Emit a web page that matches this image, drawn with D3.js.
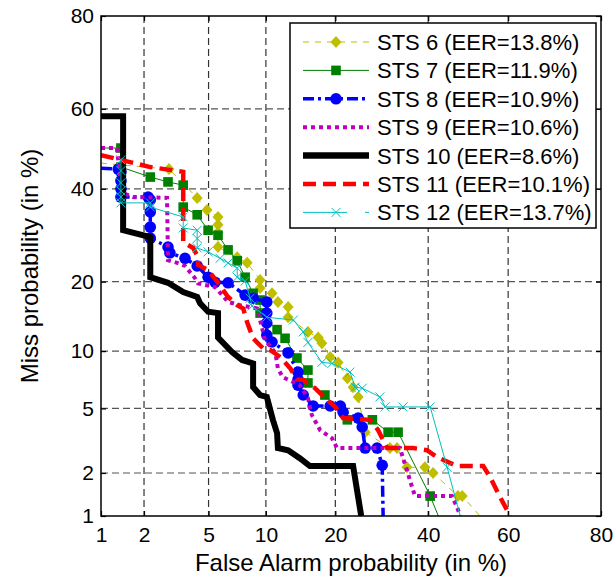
<!DOCTYPE html>
<html>
<head>
<meta charset="utf-8">
<script src="https://cdn.jsdelivr.net/npm/d3@7"></script>
<style>
  body { margin: 0; background: #fff; }
  svg { display: block; }
  text { font-family: "Liberation Sans", Arial, Helvetica, sans-serif; fill: #000; }
</style>
</head>
<body>
<svg id="chart" width="615" height="577"></svg>
<script>
// Axis tick values (percent), shared by both normal-deviate axes
const tickValues = [1, 2, 5, 10, 20, 40, 60, 80];

// System names and their equal error rates (%)
const seriesNames = ["STS 6", "STS 7", "STS 8", "STS 9", "STS 10", "STS 11", "STS 12"];
const eerValues = [13.8, 11.9, 10.9, 10.6, 8.6, 10.1, 13.7];

// DET operating points: [false alarm %, miss %]
const sts6 = [[1.0,46.4],[2.9,44.9],[4.3,37.8],[4.9,34.9],[5.65,33.3],[5.65,31.5],[5.65,29.8],[5.65,26.7],[7.17,24.6],[8.07,23.5],[9.37,20.3],[9.37,18.9],[10.7,18.0],[11.4,16.6],[12.7,15.8],[12.7,14.3],[15.5,12.3],[17.1,11.6],[17.7,10.9],[19.1,9.35],[20.5,8.8],[22.2,7.3],[23.3,6.55],[24.3,5.8],[25.7,3.63],[31.0,2.9],[32.6,2.9],[34.9,2.18],[39.2,2.18],[41.2,2.0],[47.4,1.39],[48.5,1.39],[53.0,1.0]];
const sts7 = [[1.0,50.2],[1.39,50.2],[1.39,45.4],[2.2,42.9],[2.86,41.7],[3.55,40.9],[3.55,35.6],[4.3,33.8],[4.97,30.3],[5.65,29.2],[6.41,26.1],[7.17,23.9],[7.88,20.8],[8.65,18.0],[9.37,16.9],[9.37,14.9],[11.3,12.6],[12.3,11.5],[13.9,9.25],[15.5,8.05],[15.5,6.9],[18.2,5.94],[22.2,4.3],[27.2,4.3],[30.6,3.63],[32.85,3.63],[40.5,1.39],[42.5,1.0]];
const sts8 = [[1.0,45.1],[1.33,44.9],[1.39,44.2],[1.39,42.0],[1.39,40.0],[1.39,38.0],[2.13,38.0],[2.2,37.3],[2.2,34.5],[2.2,31.0],[2.2,28.6],[2.86,26.7],[2.94,25.5],[3.64,24.4],[4.3,22.9],[4.97,20.8],[5.44,19.9],[6.41,19.8],[7.88,17.7],[8.65,17.2],[10.1,16.6],[10.1,14.9],[10.1,13.5],[10.1,11.9],[10.7,11.05],[12.7,9.8],[14.05,7.86],[14.05,7.2],[14.05,6.72],[14.8,5.94],[16.3,5.16],[19.1,5.16],[20.9,5.16],[21.4,4.77],[24.3,4.4],[25.1,3.9],[25.7,2.9],[28.2,2.9],[29.3,2.25],[29.5,1.0]];
const sts9 = [[1.0,50.2],[1.3,50.2],[1.42,39.0],[1.69,38.0],[2.82,37.8],[2.86,24.0],[3.26,23.5],[3.64,22.9],[4.18,20.6],[4.35,19.7],[5.44,19.05],[6.41,16.6],[7.42,16.1],[9.05,15.6],[9.37,13.9],[9.9,11.3],[11.1,9.8],[11.4,8.2],[12.0,7.4],[14.3,6.72],[15.5,5.72],[16.1,4.58],[17.4,3.74],[19.4,3.34],[20.3,2.9],[33.3,2.9],[34.0,2.5],[34.9,2.09],[35.6,1.79],[36.8,1.39],[45.9,1.39],[47.2,1.16],[48.0,1.0]];
const sts10 = [[1.0,58.2],[1.44,58.2],[1.44,30.3],[2.2,28.8],[2.2,20.8],[2.86,19.8],[3.55,18.2],[4.3,17.4],[4.47,16.4],[4.97,15.1],[5.65,14.9],[5.65,11.6],[6.73,9.9],[7.6,9.05],[8.65,8.7],[8.65,6.56],[9.37,5.94],[10.1,5.8],[10.8,4.3],[11.3,3.58],[11.4,2.9],[12.7,2.81],[14.3,2.5],[15.8,2.22],[23.3,2.22],[24.9,1.0]];
const sts11 = [[1.0,48.4],[1.39,47.2],[2.2,45.4],[2.94,44.7],[3.55,44.2],[3.55,27.7],[4.07,26.5],[4.35,24.6],[4.35,23.1],[4.97,22.1],[5.65,19.8],[6.41,17.4],[7.17,16.1],[7.7,15.6],[8.07,13.6],[8.65,11.5],[9.7,10.3],[10.5,10.1],[11.7,9.35],[13.0,8.2],[13.9,7.2],[14.8,7.15],[16.6,6.47],[18.6,5.57],[20.0,5.1],[21.4,4.4],[26.7,4.3],[28.4,3.74],[30.4,2.9],[36.4,2.9],[39.7,2.81],[42.2,2.54],[47.2,2.22],[53.8,2.22],[55.5,1.88],[58.0,1.37],[60.5,1.0]];
const sts12 = [[1.39,47.2],[1.39,44.5],[1.39,41.5],[1.39,39.5],[1.39,38.0],[1.39,36.6],[2.2,36.6],[2.2,35.6],[3.55,33.3],[3.55,30.8],[4.3,30.3],[4.3,28.5],[4.3,26.5],[4.97,25.7],[5.8,24.4],[6.41,23.5],[7.17,22.5],[7.17,20.8],[7.88,20.1],[8.35,17.2],[8.55,15.96],[10.1,14.3],[13.4,13.9],[14.8,12.3],[15.5,11.0],[17.7,8.8],[19.4,8.7],[22.7,7.86],[23.7,6.55],[25.1,6.47],[28.8,5.8],[29.95,5.1],[34.0,5.1],[40.5,5.1],[44.7,2.18],[48.0,1.0]];

const seriesData = [sts6, sts7, sts8, sts9, sts10, sts11, sts12];

// Line and marker appearance per system
const styles = [
  { color: "#bfbf00", width: 1,   dash: "6,6",      marker: "diamond" },
  { color: "#008000", width: 1,   dash: null,       marker: "square" },
  { color: "#0000ff", width: 3.5, dash: "11,4,3,4", marker: "circle" },
  { color: "#bf00bf", width: 4,   dash: "4,4",      marker: null },
  { color: "#000000", width: 6,   dash: null,       marker: null },
  { color: "#ff0000", width: 4.5, dash: "13,7",     marker: null },
  { color: "#00bfbf", width: 1,   dash: null,       marker: "x" }
];

// Inverse standard normal CDF (Acklam's rational approximation)
function probit(p) {
  const a = [-3.969683028665376e+01, 2.209460984245205e+02, -2.759285104469687e+02, 1.383577518672690e+02, -3.066479806614716e+01, 2.506628277459239e+00];
  const b = [-5.447609879822406e+01, 1.615858368580409e+02, -1.556989798598866e+02, 6.680131188771972e+01, -1.328068155288572e+01];
  const c = [-7.784894002430293e-03, -3.223964580411365e-01, -2.400758277161838e+00, -2.549671348850304e+00, 4.374664141464968e+00, 2.938163982698783e+00];
  const d = [7.784695709041462e-03, 3.224671290700398e-01, 2.445134137142996e+00, 3.754408661907416e+00];
  const plow = 0.02425, phigh = 1 - plow;
  let q, r;
  if (p < plow) {
    q = Math.sqrt(-2 * Math.log(p));
    return (((((c[0]*q+c[1])*q+c[2])*q+c[3])*q+c[4])*q+c[5]) / ((((d[0]*q+d[1])*q+d[2])*q+d[3])*q+1);
  } else if (p <= phigh) {
    q = p - 0.5; r = q * q;
    return (((((a[0]*r+a[1])*r+a[2])*r+a[3])*r+a[4])*r+a[5])*q / (((((b[0]*r+b[1])*r+b[2])*r+b[3])*r+b[4])*r+1);
  } else {
    q = Math.sqrt(-2 * Math.log(1 - p));
    return -(((((c[0]*q+c[1])*q+c[2])*q+c[3])*q+c[4])*q+c[5]) / ((((d[0]*q+d[1])*q+d[2])*q+d[3])*q+1);
  }
}

// Normal-deviate scale taking percentages, usable by d3 axes
function normalDeviateScale(range) {
  const lin = d3.scaleLinear().domain([probit(0.01), probit(0.80)]).range(range);
  const s = v => lin(probit(v / 100));
  s.domain = () => [1, 80];
  s.range = () => lin.range();
  s.copy = () => normalDeviateScale(range);
  return s;
}

const plot = { left: 101, top: 16, right: 601, bottom: 516 };
const x = normalDeviateScale([plot.left, plot.right]);
const y = normalDeviateScale([plot.bottom, plot.top]);

const svg = d3.select("#chart");

svg.append("defs").append("clipPath").attr("id", "plot-clip")
  .append("rect")
  .attr("x", plot.left).attr("y", plot.top)
  .attr("width", plot.right - plot.left).attr("height", plot.bottom - plot.top);

// Dashed grid
const inner = tickValues.slice(1, -1);
const grid = svg.append("g");
grid.selectAll("line.v").data(inner).join("line")
  .attr("x1", d => x(d)).attr("x2", d => x(d))
  .attr("y1", plot.top).attr("y2", plot.bottom)
  .attr("stroke", "#333").attr("stroke-width", 1.2).attr("stroke-dasharray", "7,4");
grid.selectAll("line.h").data(inner).join("line")
  .attr("y1", d => y(d)).attr("y2", d => y(d))
  .attr("x1", plot.left).attr("x2", plot.right)
  .attr("stroke", "#555").attr("stroke-width", 1.2).attr("stroke-dasharray", "7,4");

// Axes with inward ticks on all four sides
const fmt = d3.format("d");
const axisFont = 21;
const gx = svg.append("g").attr("transform", `translate(0,${plot.bottom})`)
  .call(d3.axisBottom(x).tickValues(tickValues).tickFormat(fmt).tickSizeInner(-5).tickSizeOuter(0).tickPadding(11));
const gy = svg.append("g").attr("transform", `translate(${plot.left},0)`)
  .call(d3.axisLeft(y).tickValues(tickValues).tickFormat(fmt).tickSizeInner(-5).tickSizeOuter(0).tickPadding(7));
const gt = svg.append("g").attr("transform", `translate(0,${plot.top})`)
  .call(d3.axisTop(x).tickValues(tickValues).tickFormat("").tickSizeInner(-5).tickSizeOuter(0));
const gr = svg.append("g").attr("transform", `translate(${plot.right},0)`)
  .call(d3.axisRight(y).tickValues(tickValues).tickFormat("").tickSizeInner(-5).tickSizeOuter(0));
[gx, gy, gt, gr].forEach(g => {
  g.select(".domain").remove();
  g.selectAll(".tick line").attr("stroke", "#000").attr("stroke-width", 1.2);
  g.selectAll(".tick text").attr("font-size", axisFont)
    .attr("font-family", '"Liberation Sans", Arial, Helvetica, sans-serif');
});
gx.selectAll(".tick text").attr("dy", null).attr("y", 26);

// Curves
const line = d3.line().x(d => x(d[0])).y(d => y(d[1]));
const curves = svg.append("g").attr("clip-path", "url(#plot-clip)");

function drawMarker(g, type, color, cx, cy) {
  if (type === "diamond") {
    g.append("path").attr("d", `M${cx},${cy-6}L${cx+5.5},${cy}L${cx},${cy+6}L${cx-5.5},${cy}Z`).attr("fill", color);
  } else if (type === "square") {
    g.append("rect").attr("x", cx - 4.8).attr("y", cy - 4.8).attr("width", 9.6).attr("height", 9.6).attr("fill", color);
  } else if (type === "circle") {
    g.append("circle").attr("cx", cx).attr("cy", cy).attr("r", 5.8).attr("fill", color);
  } else if (type === "x") {
    g.append("path").attr("d", `M${cx-4.5},${cy-4.5}L${cx+4.5},${cy+4.5}M${cx-4.5},${cy+4.5}L${cx+4.5},${cy-4.5}`)
      .attr("stroke", color).attr("stroke-width", 1).attr("fill", "none");
  }
}

seriesData.forEach((data, i) => {
  const st = styles[i];
  const g = curves.append("g");
  g.append("path").datum(data)
    .attr("d", line)
    .attr("fill", "none")
    .attr("stroke", st.color)
    .attr("stroke-width", st.width)
    .attr("stroke-dasharray", st.dash)
    .attr("stroke-linejoin", "miter");
  if (st.marker) {
    data.filter(d => d[0] > 1 && d[1] > 1)
      .forEach(d => drawMarker(g, st.marker, st.color, x(d[0]), y(d[1])));
  }
});

// Plot frame
svg.append("rect")
  .attr("x", plot.left).attr("y", plot.top)
  .attr("width", plot.right - plot.left).attr("height", plot.bottom - plot.top)
  .attr("fill", "none").attr("stroke", "#000").attr("stroke-width", 1.5);

// Axis titles
svg.append("text")
  .attr("x", (plot.left + plot.right) / 2).attr("y", 571)
  .attr("text-anchor", "middle").attr("font-size", 24)
  .text("False Alarm probability (in %)");
svg.append("text")
  .attr("transform", `translate(38,${(plot.top + plot.bottom) / 2}) rotate(-90)`)
  .attr("text-anchor", "middle").attr("font-size", 24)
  .text("Miss probability (in %)");

// Legend
const legend = svg.append("g");
legend.append("rect")
  .attr("x", 290).attr("y", 23).attr("width", 306).attr("height", 205)
  .attr("fill", "#fff").attr("stroke", "#000").attr("stroke-width", 1.5);
seriesNames.forEach((name, i) => {
  const st = styles[i];
  const ry = 42 + i * 28.4;
  const row = legend.append("g");
  row.append("line")
    .attr("x1", 303).attr("x2", 369).attr("y1", ry).attr("y2", ry)
    .attr("stroke", st.color)
    .attr("stroke-width", i === 4 ? 6.5 : st.width)
    .attr("stroke-dasharray", i === 6 ? "44,18,4,40" : st.dash);
  if (st.marker) drawMarker(row, st.marker, st.color, 336, ry);
  row.append("text")
    .attr("x", 377).attr("y", ry).attr("dy", "0.36em")
    .attr("font-size", 22)
    .text(`${name} (EER=${eerValues[i]}%)`);
});
</script>
</body>
</html>
